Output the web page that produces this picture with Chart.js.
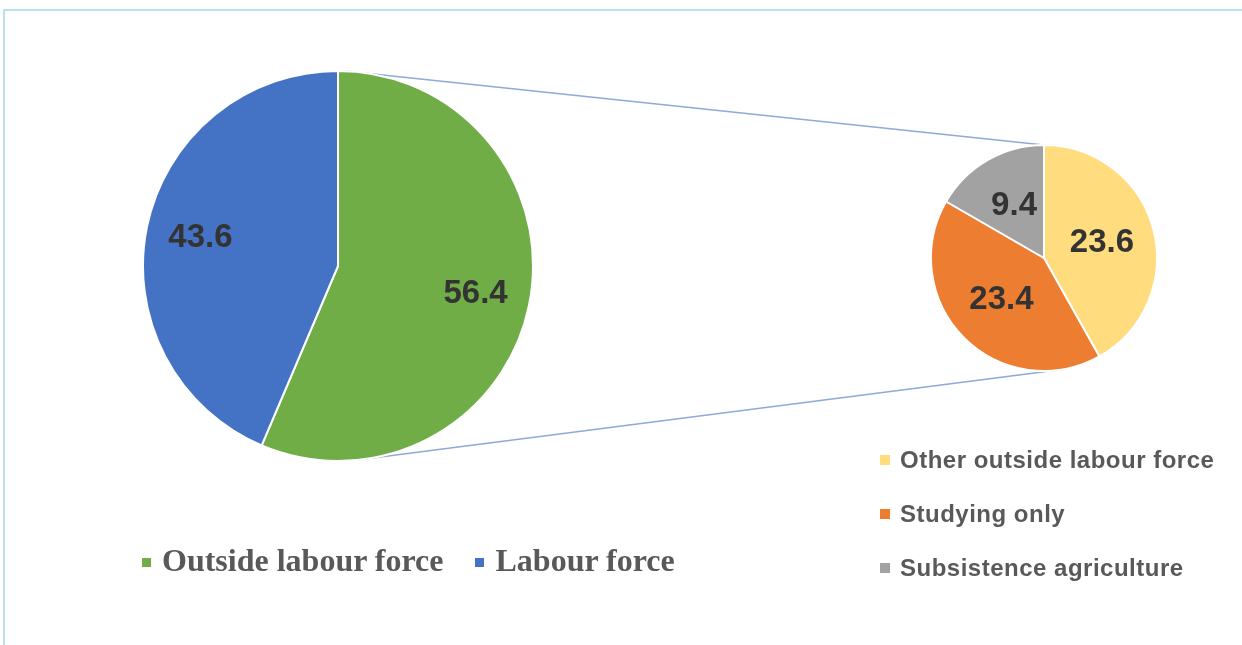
<!DOCTYPE html>
<html>
<head>
<meta charset="utf-8">
<script src="https://cdn.jsdelivr.net/npm/chart.js@4.4.1/dist/chart.umd.min.js"></script>
<style>
body { margin:0; background:#fff; width:1242px; height:645px; overflow:hidden; position:relative; font-family:"Liberation Sans", Arial, sans-serif; }
#frame { position:absolute; left:3px; top:9px; right:0; bottom:0; border-top:2px solid #b7e1ec; border-left:2px solid #b7e1ec; }
#lines { position:absolute; left:0; top:0; }
#mainBox { position:absolute; left:142px; top:70px; width:392px; height:392px; }
#subBox { position:absolute; left:930px; top:144px; width:228px; height:228px; }
.legend-main { position:absolute; left:142px; top:540px; font:bold 32px "Liberation Serif", "Times New Roman", serif; color:#595959; display:flex; white-space:nowrap; line-height:40px; }
.legend-main .item { display:flex; align-items:center; margin-right:32px; }
.legend-main .mark { width:9px; height:9px; margin-right:11px; margin-top:4px; }
.legend-sub { position:absolute; left:880px; top:443px; font:bold 24px "Liberation Sans", Arial, sans-serif; letter-spacing:0.5px; color:#595959; white-space:nowrap; }
.legend-sub .item { display:flex; align-items:center; height:34px; margin-bottom:20px; }
.legend-sub .mark { width:10px; height:10px; margin-right:10px; }
</style>
</head>
<body>
<div id="frame"></div>
<canvas id="lines" width="1242" height="645"></canvas>
<div id="mainBox"><canvas id="mainPie"></canvas></div>
<div id="subBox"><canvas id="subPie"></canvas></div>
<div class="legend-main" id="mainLegend"></div>
<div class="legend-sub" id="subLegend"></div>
<script>
const mainLabels = ["Outside labour force", "Labour force"];
const mainValues = [56.4, 43.6];
const mainColors = ["#70ad47", "#4472c4"];

const subLabels = ["Other outside labour force", "Studying only", "Subsistence agriculture"];
const subValues = [23.6, 23.4, 9.4];
const subColors = ["#ffdc7e", "#ed7d31", "#a2a2a2"];

// draws the numbers inside each slice
const valueLabels = {
    id: "valueLabels",
    afterDatasetsDraw(chart, args, opts) {
        const ctx = chart.ctx;
        const meta = chart.getDatasetMeta(0);
        const values = chart.data.datasets[0].data;
        ctx.save();
        ctx.font = "bold 33px 'Liberation Sans', Arial, sans-serif";
        ctx.fillStyle = "#333333";
        ctx.textAlign = "center";
        ctx.textBaseline = "middle";
        meta.data.forEach((arc, i) => {
            const p = arc.getProps(["x", "y", "startAngle", "endAngle", "outerRadius"], true);
            const mid = (p.startAngle + p.endAngle) / 2;
            const r = p.outerRadius * opts.ratio;
            ctx.fillText(values[i].toFixed(1), p.x + Math.cos(mid) * r, p.y + Math.sin(mid) * r);
        });
        ctx.restore();
    }
};

function pieConfig(labels, values, colors, ratio) {
    return {
        type: "pie",
        data: {
            labels,
            datasets: [{ data: values, backgroundColor: colors, borderColor: "#ffffff", borderWidth: 2 }]
        },
        options: {
            responsive: true,
            maintainAspectRatio: false,
            animation: false,
            events: [],
            layout: { padding: 0 },
            plugins: {
                legend: { display: false },
                tooltip: { enabled: false },
                valueLabels: { ratio }
            }
        },
        plugins: [valueLabels]
    };
}

const mainChart = new Chart(document.getElementById("mainPie"), pieConfig(mainLabels, mainValues, mainColors, 0.72));
const subChart = new Chart(document.getElementById("subPie"), pieConfig(subLabels, subValues, subColors, 0.53));

function buildLegend(el, labels, colors) {
    el.innerHTML = labels.map((l, i) =>
        `<div class="item"><span class="mark" style="background:${colors[i]}"></span>${l}</div>`).join("");
}
buildLegend(document.getElementById("mainLegend"), mainLabels, mainColors);
buildLegend(document.getElementById("subLegend"), subLabels, subColors);

// connector lines between the two pies
function pointOn(chart, box, degFromTop) {
    const arc = chart.getDatasetMeta(0).data[0];
    const a = (degFromTop - 90) * Math.PI / 180;
    return {
        x: box.offsetLeft + arc.x + Math.cos(a) * arc.outerRadius,
        y: box.offsetTop + arc.y + Math.sin(a) * arc.outerRadius
    };
}

function drawConnectors() {
    const ctx = document.getElementById("lines").getContext("2d");
    const mainBox = document.getElementById("mainBox");
    const subBox = document.getElementById("subBox");
    const pairs = [
        [pointOn(mainChart, mainBox, 2), pointOn(subChart, subBox, 0)],
        [pointOn(mainChart, mainBox, 175), pointOn(subChart, subBox, 170)]
    ];
    ctx.strokeStyle = "#8eaad6";
    ctx.lineWidth = 1.5;
    pairs.forEach(([p, q]) => {
        ctx.beginPath();
        ctx.moveTo(p.x, p.y);
        ctx.lineTo(q.x, q.y);
        ctx.stroke();
    });
}
drawConnectors();
</script>
</body>
</html>
